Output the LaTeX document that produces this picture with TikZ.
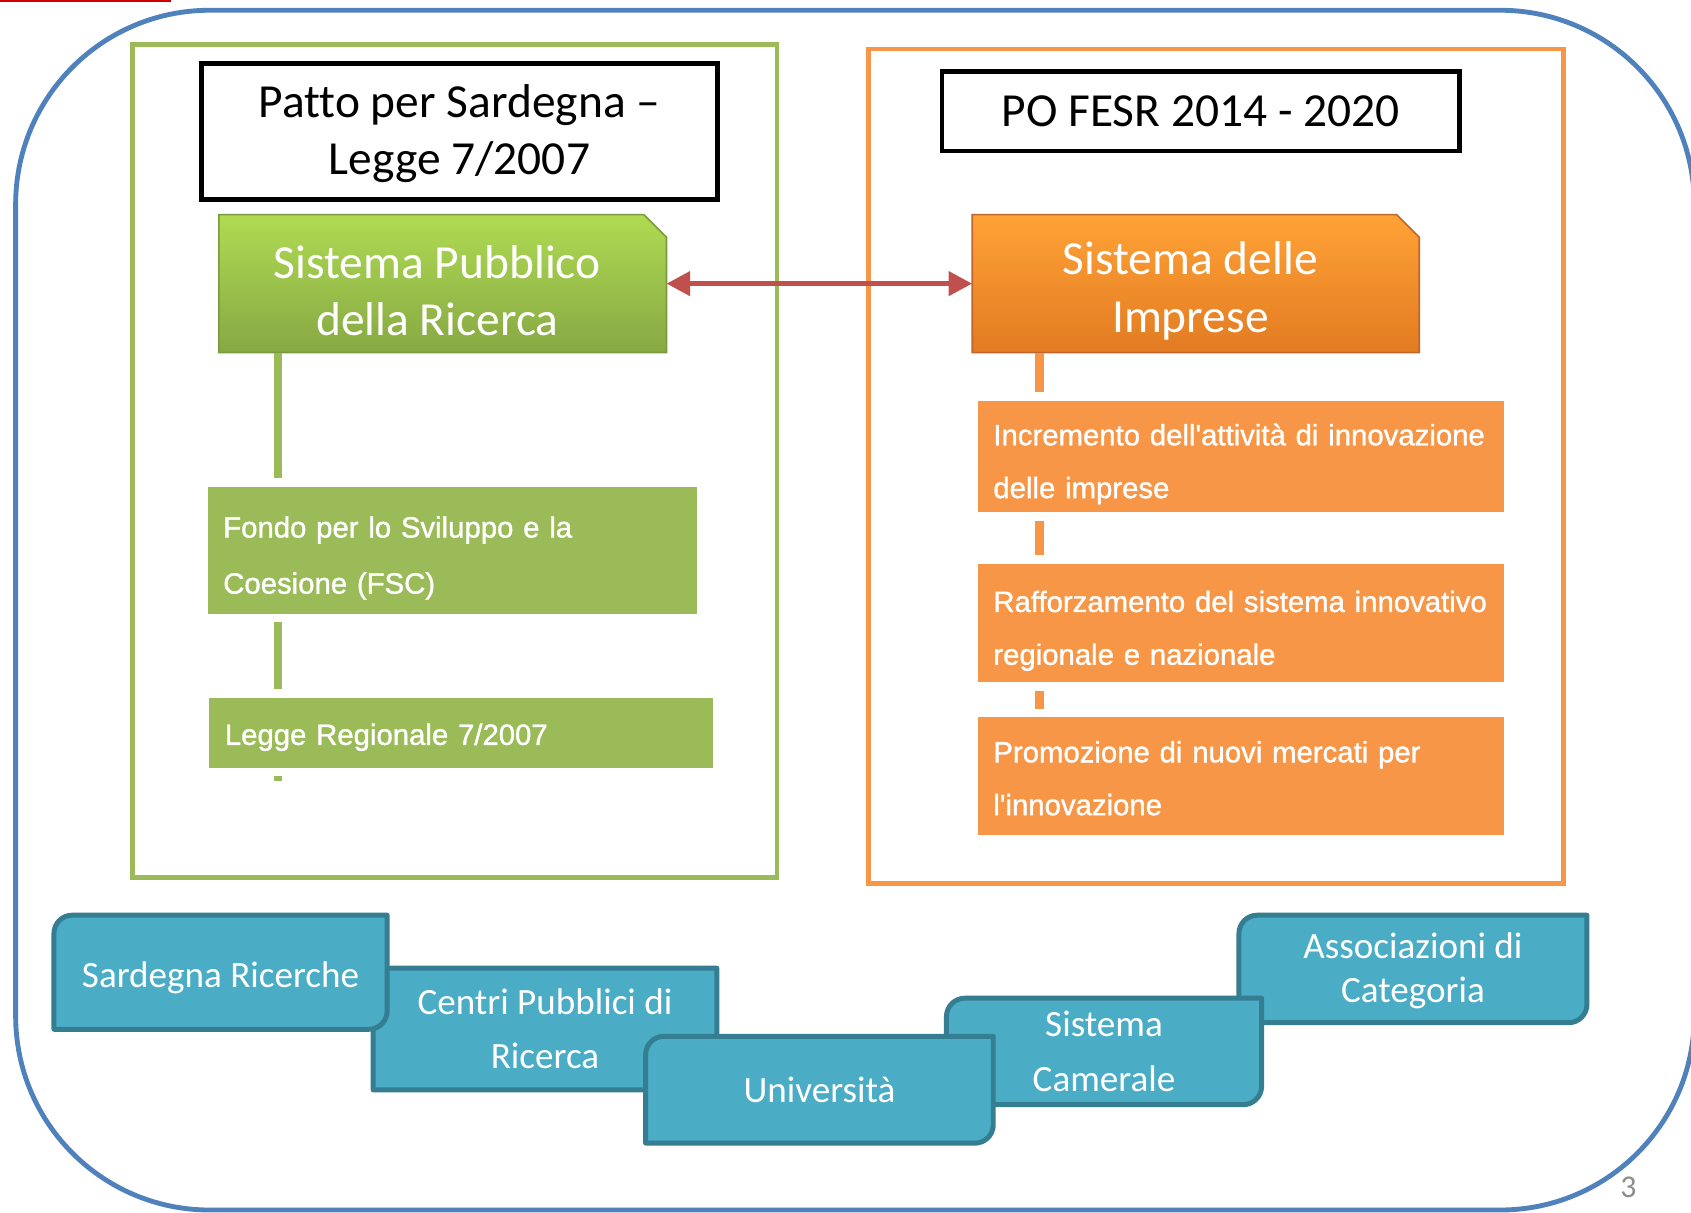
\documentclass[tikz,border=0pt]{standalone}
\usepackage{fontspec}
\setmainfont{Carlito}[Ligatures=NoCommon]
\newfontfamily\arialf{Liberation Sans}[Ligatures=TeXOff,FakeBold=1.2]
\usetikzlibrary{arrows.meta,backgrounds,calc}
\definecolor{oblue}{HTML}{4F81BD}
\definecolor{ogreen}{HTML}{9BBB59}
\definecolor{oorange}{HTML}{F79646}
\definecolor{ored}{HTML}{C0504D}
\definecolor{oteal}{HTML}{4BACC6}
\definecolor{otealdark}{HTML}{357D91}
\definecolor{gtop}{HTML}{AFDB52}
\definecolor{gbot}{HTML}{87A844}
\definecolor{gdark}{HTML}{7A9A3E}
\definecolor{otop}{HTML}{FFA236}
\definecolor{obot}{HTML}{E27B22}
\definecolor{odark}{HTML}{C0662A}
\definecolor{topred}{HTML}{D00000}
\definecolor{pgray}{HTML}{8C8C8C}
\newcommand\firststrut{\rule{0pt}{17pt}}
\newcommand\sysstrut{\rule{0pt}{22pt}}
\begin{document}
\begin{tikzpicture}[x=0.5pt,y=-0.5pt,
  every node/.style={inner sep=0pt, outer sep=0pt},
  framebox/.style={draw=#1, line width=2.25pt, anchor=north west},
  titlebox/.style={draw=black, line width=2.25pt, anchor=north west, align=center,
    font=\fontsize{22}{26.5}\selectfont},
  sysnode/.style={anchor=north west, align=center, text=white,
    font=\fontsize{22}{26.5}\selectfont},
  itembox/.style={fill=#1, anchor=north west, inner xsep=7.25pt, align=left, text=white},
  tealnode/.style={anchor=north west, align=center, text=white},
  tealshape/.style={fill=oteal, draw=otealdark, line width=2.3pt, line join=round},
  gconn/.style={draw=ogreen, line width=3.75pt},
  oconn/.style={draw=oorange, line width=4pt},
  duplex/.style={draw=ored, line width=2.5pt,
    {Triangle[length=11pt,width=11pt]}-{Triangle[length=11pt,width=11pt]}}
]
\useasboundingbox (0,0) rectangle (1568,1124);
\begin{scope}[on background layer]
  \fill[white] (0,0) rectangle (1568,1124);
\end{scope}

% outer rounded frame
\draw[oblue, line width=2.25pt, rounded corners=90pt] (14.5,9.5) rectangle (1571,1122);
\draw[topred, line width=1.5pt] (0,0) -- (159,0);

% two coloured frames
\node[framebox=ogreen, minimum width=299pt, minimum height=386.5pt] (leftframe) at (122.5,41) {};
\node[framebox=oorange, minimum width=322.5pt, minimum height=386.75pt] (rightframe) at (805,45.5) {};

% titles
\node[titlebox, minimum width=239pt, minimum height=63pt] (patto) at (187,59)
  {\rule{0pt}{17pt}Patto per Sardegna –\\Legge 7/2007};
\node[titlebox, minimum width=239.75pt, minimum height=37pt] (pofesr) at (873.5,66)
  {PO FESR 2014 - 2020};

% main systems (node widened 5pt to the left so the text sits as in the original)
\node[sysnode, minimum width=212.5pt, minimum height=64pt] (spr) at (193,199)
  {\sysstrut Sistema Pubblico\\della Ricerca};
\node[sysnode, minimum width=212.25pt, minimum height=64pt] (osd) at (891.5,199)
  {\sysstrut Sistema delle\\Imprese};
\begin{scope}[on background layer]
  \path[top color=gtop, bottom color=gbot, draw=gdark, line width=0.75pt]
    ([xshift=5pt]spr.north west) -- ([xshift=-10.5pt]spr.north east) -- ([yshift=-10.5pt]spr.north east)
    -- (spr.south east) -- ([xshift=5pt]spr.south west) -- cycle;
  \path[top color=otop, bottom color=obot, draw=odark, line width=0.75pt]
    ([xshift=5pt]osd.north west) -- ([xshift=-10.5pt]osd.north east) -- ([yshift=-10.5pt]osd.north east)
    -- (osd.south east) -- ([xshift=5pt]osd.south west) -- cycle;
\end{scope}
\draw[duplex] (spr.east) -- ([xshift=5pt]osd.west);

% left items
\node[itembox=ogreen, minimum width=226.75pt, minimum height=58.75pt, text width=212.25pt,
  font=\arialf\fontsize{13.6}{26}\selectfont] (fsc) at (192.5,451.5)
  {\firststrut Fondo per lo Sviluppo e la\\Coesione (FSC)};
\node[itembox=ogreen, minimum width=233.5pt, minimum height=32.5pt, text width=219pt,
  font=\arialf\fontsize{13.6}{26}\selectfont] (legge) at (194,647)
  {\rule{0pt}{14pt}Legge Regionale 7/2007};

% right items
\node[itembox=oorange, minimum width=244.1pt, minimum height=51.6pt, text width=229.6pt,
  font=\arialf\fontsize{13.6}{24.5}\selectfont] (oi1) at (906.6,371.6)
  {\firststrut Incremento dell'attività di innovazione\\delle imprese};
\node[itembox=oorange, minimum width=244.1pt, minimum height=54.75pt, text width=229.6pt,
  font=\arialf\fontsize{13.6}{24.5}\selectfont] (oi2) at (906.6,523)
  {\firststrut Rafforzamento del sistema innovativo\\regionale e nazionale};
\node[itembox=oorange, minimum width=244.1pt, minimum height=54.5pt, text width=229.6pt,
  font=\arialf\fontsize{13.6}{24.5}\selectfont] (oi3) at (906.6,665)
  {\rule{0pt}{12pt}Promozione di nuovi mercati per\\l'innovazione};

% connectors
\coordinate (gx) at (257.5,0);
\coordinate (ox) at (964,0);
\coordinate (gtail) at (257.5,724);
\draw[gconn, shorten >=4pt] (spr.south -| gx) -- (fsc.north -| gx);
\draw[gconn, shorten <=4pt, shorten >=4pt] (fsc.south -| gx) -- (legge.north -| gx);
\draw[gconn, shorten <=3.75pt] (legge.south -| gx) -- (gtail);
\draw[oconn, shorten >=4pt] (osd.south -| ox) -- (oi1.north -| ox);
\draw[oconn, shorten <=4pt, shorten >=4pt] (oi1.south -| ox) -- (oi2.north -| ox);
\draw[oconn, shorten <=4pt, shorten >=4pt] (oi2.south -| ox) -- (oi3.north -| ox);

% teal boxes (text nodes; shapes on background in stacking order)
\node[tealnode, minimum width=161.35pt, minimum height=49.85pt,
  font=\fontsize{17.2}{20.5}\selectfont] (ass) at (1148.8,848.6) {\rule{0pt}{14pt}Associazioni di\\Categoria};
\node[tealnode, minimum width=146.1pt, minimum height=49.35pt,
  font=\fontsize{17.2}{25.5}\selectfont] (cam) at (877.6,925.6) {Sistema\\Camerale};
\node[tealnode, minimum width=159.35pt, minimum height=56.45pt,
  font=\fontsize{17.2}{25}\selectfont] (cpr) at (346,897.7) {Centri Pubblici di\\Ricerca};
\node[tealnode, minimum width=154.5pt, minimum height=52.9pt,
  font=\fontsize{17.2}{20.5}\selectfont] (sr) at (50,848.6) {\rule{0pt}{17pt}Sardegna Ricerche};
\node[tealnode, minimum width=161.15pt, minimum height=49.55pt,
  font=\fontsize{17.2}{20.5}\selectfont] (uni) at (598.7,960.9) {Università};
\begin{scope}[on background layer]
  \foreach \b in {ass,cam,cpr,sr,uni}{
    \path[tealshape] (\b.north east) -- ([yshift=8.5pt]\b.south east)
      arc[start angle=0, end angle=-90, radius=8.5pt]
      -- (\b.south west) -- ([yshift=-8.5pt]\b.north west)
      arc[start angle=180, end angle=90, radius=8.5pt] -- cycle;
  }
\end{scope}

\node[text=pgray, font=\fontsize{14.7}{17}\selectfont] (pnum) at (1510,1101) {3};
\end{tikzpicture}
\end{document}
